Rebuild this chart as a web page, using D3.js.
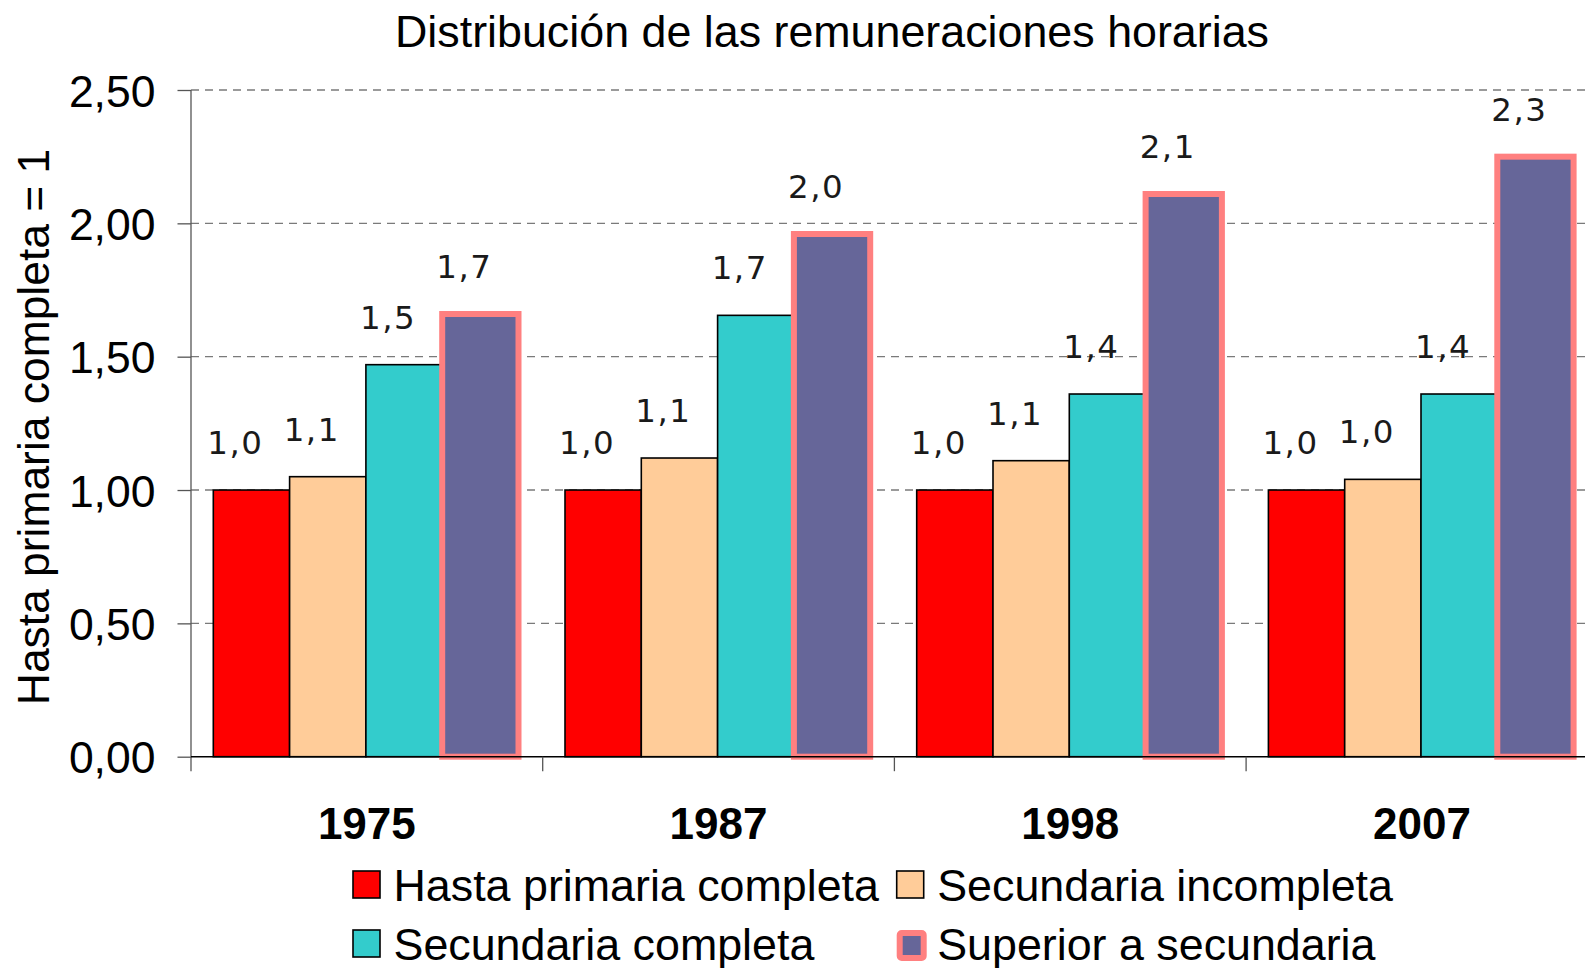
<!DOCTYPE html>
<html>
<head>
<meta charset="utf-8">
<script src="https://cdn.jsdelivr.net/npm/d3@7"></script>
<style>
  body { margin: 0; background: #fff; }
  svg { display: block; }
</style>
</head>
<body>
<div id="container"></div>
<script>
// data
let years = ["1975", "1987", "1998", "2007"];
let seriesNames = ["Hasta primaria completa", "Secundaria incompleta", "Secundaria completa", "Superior a secundaria"];
let primaria = [1.00, 1.00, 1.00, 1.00];
let secIncompleta = [1.05, 1.12, 1.11, 1.04];
let secCompleta = [1.47, 1.655, 1.36, 1.36];
let superior = [1.66, 1.96, 2.11, 2.25];
let yTicks = [0, 0.5, 1, 1.5, 2, 2.5];

let fills = ["#ff0000", "#ffcc99", "#33cccc", "#666699"];
let strokes = ["#000", "#000", "#000", "#ff8080"];
let strokeW = [1.6, 1.6, 1.6, 6];

let w = 1585;
let h = 968;
let left = 191;
let bandW = 351.7;
let yBottom = 756.7;
let yTop = 90;

let allSeries = [primaria, secIncompleta, secCompleta, superior];

let es = d3.formatLocale({decimal: ",", thousands: ".", grouping: [3], currency: ["", "€"]});
let fmtTick = es.format(".2f");
let fmtLabel = es.format(".1f");

let viz = d3.select("#container")
  .append("svg")
    .attr("width", w)
    .attr("height", h)
    .style("font-family", "'Liberation Sans', Arial, sans-serif")
;

let xScale = d3.scaleBand().domain(years).range([left, left + bandW * years.length]).padding(0);
let xInner = d3.scaleBand().domain(d3.range(4)).range([22.3, 327.5]).padding(0);
let yScale = d3.scaleLinear().domain([0, 2.5]).range([yBottom, yTop]);

// gridlines
viz.append("g").selectAll("line").data(yTicks.filter(d => d > 0)).enter()
  .append("line")
    .attr("x1", left).attr("x2", w)
    .attr("y1", d => yScale(d)).attr("y2", d => yScale(d))
    .attr("stroke", "#7a7a7a")
    .attr("stroke-width", 1.3)
    .attr("stroke-dasharray", "8,6")
;

// y axis
let yAxis = d3.axisLeft(yScale).tickValues(yTicks).tickSize(13.5).tickPadding(22).tickFormat(fmtTick);
let yAxisGroup = viz.append("g")
    .attr("transform", "translate(" + left + ",0)")
    .call(yAxis);
yAxisGroup.select(".domain").remove();
yAxisGroup.selectAll(".tick line").attr("stroke", "#555").attr("stroke-width", 1.3);
yAxisGroup.selectAll(".tick text")
  .attr("font-size", 44.5)
  .attr("font-family", "'Liberation Sans', Arial, sans-serif")
  .attr("fill", "#000")
  .attr("dy", "0.36em");
viz.append("line")
  .attr("x1", left).attr("x2", left)
  .attr("y1", yTop).attr("y2", yBottom + 14.5)
  .attr("stroke", "#555").attr("stroke-width", 1.3);

// bars
let groups = viz.append("g").selectAll("g").data(years).enter()
  .append("g")
    .attr("transform", d => "translate(" + xScale(d) + ",0)");

groups.selectAll("rect").data((d, i) => allSeries.map((s, k) => ({k: k, v: s[i]}))).enter()
  .append("rect")
    .attr("x", d => xInner(d.k))
    .attr("width", xInner.bandwidth())
    .attr("y", d => yScale(d.v))
    .attr("height", d => yBottom - yScale(d.v))
    .attr("fill", d => fills[d.k])
    .attr("stroke", d => strokes[d.k])
    .attr("stroke-width", d => strokeW[d.k])
;

groups.selectAll("text").data((d, i) => allSeries.map((s, k) => ({k: k, v: s[i]}))).enter()
  .append("text")
    .attr("x", d => xInner(d.k) + xInner.bandwidth() / 2 - 16)
    .attr("y", d => yScale(d.v) - 36)
    .attr("text-anchor", "middle")
    .attr("font-family", "'DejaVu Sans', Verdana, sans-serif")
    .attr("font-size", 32.5)
    .attr("letter-spacing", 1.5)
    .attr("fill", "#1a1a1a")
    .text(d => fmtLabel(d.v))
;

// x axis line and category ticks
viz.append("line")
  .attr("x1", left).attr("x2", w)
  .attr("y1", yBottom).attr("y2", yBottom)
  .attr("stroke", "#000").attr("stroke-width", 1.6);
viz.append("g").selectAll("line").data(years.slice(1)).enter()
  .append("line")
    .attr("x1", d => xScale(d)).attr("x2", d => xScale(d))
    .attr("y1", yBottom).attr("y2", yBottom + 14.5)
    .attr("stroke", "#555").attr("stroke-width", 1.3);

viz.append("g").selectAll("text").data(years).enter()
  .append("text")
    .attr("x", d => xScale(d) + bandW / 2)
    .attr("y", 838.5)
    .attr("text-anchor", "middle")
    .attr("font-size", 44)
    .attr("font-weight", "bold")
    .text(d => d);

// title
viz.append("text")
  .attr("x", 832).attr("y", 46.7)
  .attr("text-anchor", "middle")
  .attr("font-size", 44.8)
  .text("Distribución de las remuneraciones horarias");

// y title
viz.append("text")
  .attr("transform", "translate(49,427) rotate(-90)")
  .attr("text-anchor", "middle")
  .attr("font-size", 44.4)
  .text("Hasta primaria completa = 1");

// legend
let legX = [353, 896.7];
let legY = [871, 930];
let legend = viz.append("g").selectAll("g").data(seriesNames).enter()
  .append("g")
    .attr("transform", (d, i) => "translate(" + legX[i % 2] + "," + legY[Math.floor(i / 2)] + ")");
legend.append("rect")
  .attr("x", (d, i) => i == 3 ? 3 : 0)
  .attr("y", (d, i) => i == 3 ? 3 : 0)
  .attr("width", (d, i) => i == 3 ? 24 : 27)
  .attr("height", (d, i) => i == 3 ? 25 : 27)
  .attr("fill", (d, i) => fills[i])
  .attr("stroke", (d, i) => strokes[i])
  .attr("stroke-width", (d, i) => i == 3 ? 6 : 1.6)
  .attr("rx", (d, i) => i == 3 ? 2 : 0);
legend.append("text")
  .attr("x", 40.5)
  .attr("y", 29.5)
  .attr("font-size", 44.8)
  .text(d => d);
</script>
</body>
</html>
